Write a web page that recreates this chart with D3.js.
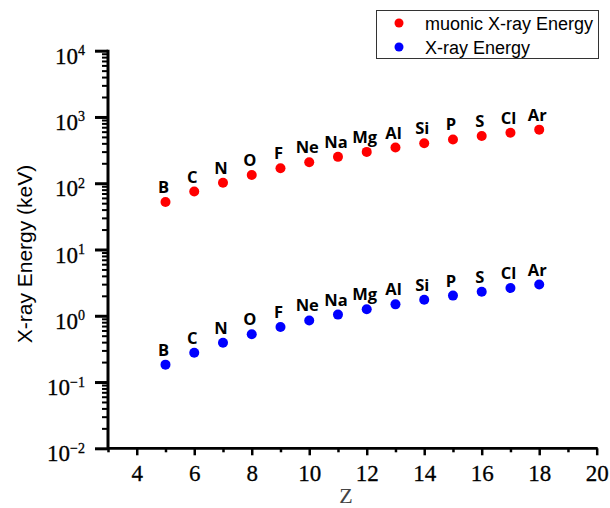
<!DOCTYPE html>
<html>
<head>
<meta charset="utf-8">
<script src="https://cdn.jsdelivr.net/npm/d3@7/dist/d3.min.js"></script>
<style>
  html, body { margin: 0; padding: 0; background: #fff; }
  svg { display: block; }
</style>
</head>
<body>
<svg id="chart" width="610" height="508"></svg>
<script>
// Elements B..Ar, atomic number Z
const elements = ["B", "C", "N", "O", "F", "Ne", "Na", "Mg", "Al", "Si", "P", "S", "Cl", "Ar"];
const zValues = [5, 6, 7, 8, 9, 10, 11, 12, 13, 14, 15, 16, 17, 18];
// Muonic 2p→1s X-ray energies (keV)
const muonicEnergy = [52, 75, 102, 133, 168, 207, 250, 297, 346, 400, 458, 516, 579, 644];
// Electronic Kα X-ray energies (keV)
const xrayEnergy = [0.183, 0.277, 0.392, 0.525, 0.677, 0.849, 1.041, 1.254, 1.487, 1.740, 2.014, 2.307, 2.622, 2.957];
// Axis ticks
const xMajorTicks = [4, 6, 8, 10, 12, 14, 16, 18, 20];
const xMinorTicks = [3, 5, 7, 9, 11, 13, 15, 17, 19];
const yExponents = [-2, -1, 0, 1, 2, 3, 4];
const seriesNames = ["muonic X-ray Energy", "X-ray Energy"];
const seriesColors = ["#ff0000", "#0000ff"];

const svg = d3.select("#chart");

const x = d3.scaleLinear().domain([3, 20]).range([108, 596.7]);
const y = d3.scaleLog().domain([1e-2, 1e4]).range([448.3, 50.7]);

const serif = "'Liberation Serif', 'Times New Roman', serif";
const sans = "'Liberation Sans', Arial, sans-serif";

// ---- Y axis (log) ----
const yMajor = yExponents.map(e => Math.pow(10, e));
const yMinor = [];
yExponents.slice(0, -1).forEach(e => {
  for (let m = 2; m <= 9; m++) yMinor.push(m * Math.pow(10, e));
});

const yAxisMinor = svg.append("g")
  .attr("transform", `translate(${x(3)},0)`)
  .call(d3.axisLeft(y).tickValues(yMinor).tickSize(6).tickFormat(""));
const yAxisMajor = svg.append("g")
  .attr("transform", `translate(${x(3)},0)`)
  .call(d3.axisLeft(y).tickValues(yMajor).tickSize(13).tickSizeOuter(0).tickFormat(""));

[yAxisMinor, yAxisMajor].forEach(g => {
  g.select(".domain").remove();
});
yAxisMinor.selectAll(".tick line").attr("stroke", "#000").attr("stroke-width", 2);
yAxisMajor.selectAll(".tick line").attr("stroke", "#000").attr("stroke-width", 3);

// y tick labels: 10 with superscript exponent
const yLab = svg.append("g");
yExponents.forEach(e => {
  const t = yLab.append("text")
    .attr("x", 85)
    .attr("y", y(Math.pow(10, e)) + 13)
    .attr("text-anchor", "end")
    .attr("font-family", serif)
    .attr("font-size", 23)
    .attr("stroke", "#000")
    .attr("stroke-width", 0.3)
    .attr("fill", "#000");
  t.append("tspan").text("10");
  t.append("tspan")
    .attr("dy", -8.5)
    .attr("font-size", 14)
    .text(e < 0 ? "\u2212" + Math.abs(e) : String(e));
});

// ---- X axis ----
const xAxisMinor = svg.append("g")
  .attr("transform", `translate(0,${y(1e-2)})`)
  .call(d3.axisBottom(x).tickValues(xMinorTicks).tickSize(4).tickFormat(""));
const xAxisMajor = svg.append("g")
  .attr("transform", `translate(0,${y(1e-2)})`)
  .call(d3.axisBottom(x).tickValues(xMajorTicks).tickSize(7).tickSizeOuter(0).tickFormat(d3.format("d")));
xAxisMinor.select(".domain").remove();
xAxisMajor.select(".domain").remove();
xAxisMinor.selectAll(".tick line").attr("stroke", "#000").attr("stroke-width", 2.5);
xAxisMajor.selectAll(".tick line").attr("stroke", "#000").attr("stroke-width", 2.5);
xAxisMajor.selectAll(".tick text")
  .attr("font-family", serif)
  .attr("font-size", 23)
  .attr("fill", "#000")
  .attr("stroke", "#000")
  .attr("stroke-width", 0.3)
  .attr("dy", null)
  .attr("y", 33);

// axis lines
svg.append("line")
  .attr("x1", x(3)).attr("x2", x(3))
  .attr("y1", y(1e4) - 1).attr("y2", y(1e-2) + 1)
  .attr("stroke", "#000").attr("stroke-width", 3);
svg.append("line")
  .attr("x1", x(3) - 1).attr("x2", x(20) + 1)
  .attr("y1", y(1e-2)).attr("y2", y(1e-2))
  .attr("stroke", "#000").attr("stroke-width", 2.7);

// axis titles
svg.append("text")
  .attr("transform", `translate(31.5,254) rotate(-90)`)
  .attr("text-anchor", "middle")
  .attr("font-family", sans)
  .attr("font-size", 21)
  .attr("fill", "#000")
  .text("X-ray Energy (keV)");
svg.append("text")
  .attr("x", 346)
  .attr("y", 503)
  .attr("text-anchor", "middle")
  .attr("font-family", serif)
  .attr("font-size", 22)
  .attr("fill", "#444")
  .text("Z");

// ---- Series ----
const series = [muonicEnergy, xrayEnergy];
series.forEach((vals, si) => {
  const g = svg.append("g");
  g.selectAll("circle")
    .data(vals)
    .join("circle")
    .attr("cx", (d, i) => x(zValues[i]))
    .attr("cy", d => y(d))
    .attr("r", 5)
    .attr("fill", seriesColors[si]);
  g.selectAll("text")
    .data(vals)
    .join("text")
    .attr("x", (d, i) => x(zValues[i]) - 2)
    .attr("y", d => y(d) - 9)
    .attr("text-anchor", "middle")
    .attr("font-family", "'Open Sans', 'Noto Sans', sans-serif")
    .attr("font-weight", "bold")
    .attr("font-size", 16.5)
    .attr("fill", "#000")
    .text((d, i) => elements[i]);
});

// ---- Legend ----
const legend = svg.append("g");
legend.append("rect")
  .attr("x", 376.5).attr("y", 10.5)
  .attr("width", 222).attr("height", 48)
  .attr("fill", "#fff")
  .attr("stroke", "#333")
  .attr("stroke-width", 1);
seriesNames.forEach((name, i) => {
  legend.append("circle")
    .attr("cx", 399)
    .attr("cy", 23 + i * 24)
    .attr("r", 4.5)
    .attr("fill", seriesColors[i]);
  legend.append("text")
    .attr("x", 425)
    .attr("y", 29.5 + i * 24)
    .attr("font-family", sans)
    .attr("font-size", 18)
    .attr("fill", "#000")
    .text(name);
});
</script>
</body>
</html>
